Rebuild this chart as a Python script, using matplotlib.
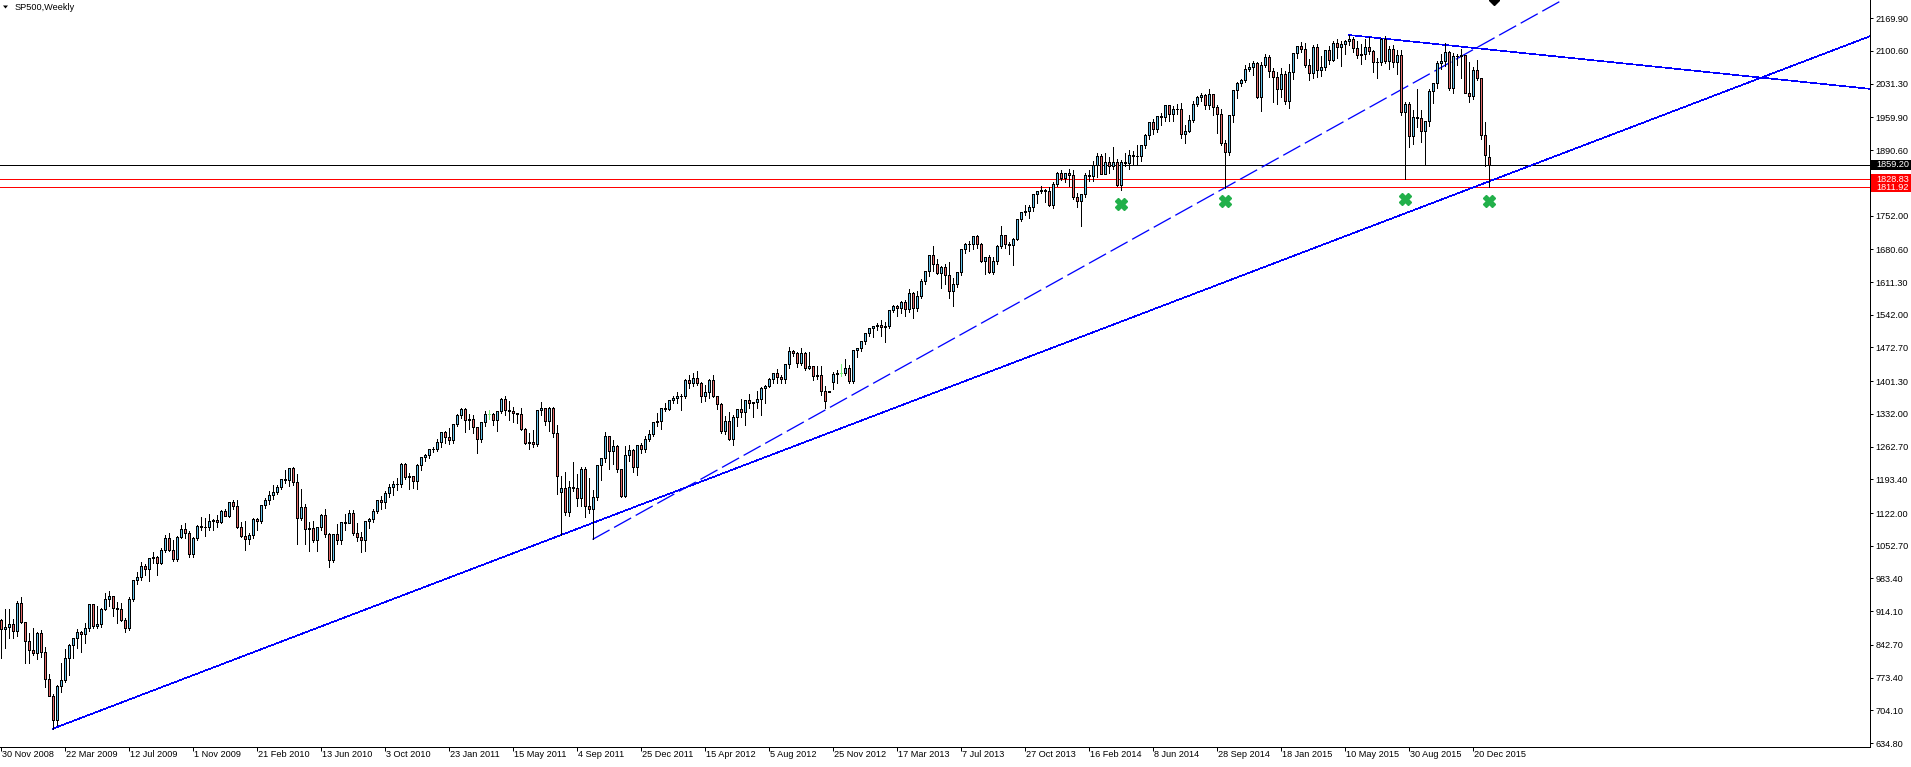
import matplotlib
matplotlib.use("Agg")
import matplotlib.pyplot as plt
from matplotlib.patches import Rectangle, Polygon
from matplotlib.collections import PatchCollection, LineCollection
from matplotlib.transforms import blended_transform_factory

plt.rcParams['font.family'] = ['Liberation Sans', 'DejaVu Sans']

# weekly bars, week 0 = 30 Nov 2008 ... week 372 = 17 Jan 2016 (still open)
closes = [
    876.1, 879.7, 887.9, 872.8, 931.8,
    890.4, 850.1, 832.0, 825.9, 868.6, 826.8, 770.1, 735.1, 683.4, 756.6,
    768.5, 815.9, 842.5, 856.6, 869.6, 866.2, 877.5, 929.2, 882.9, 887.0,
    919.1, 940.1, 946.2, 921.2, 918.9, 896.4, 879.1, 940.4, 979.3, 987.5,
    1010.5, 1004.1, 1026.1, 1028.9, 1016.4, 1042.7, 1068.3, 1044.4, 1025.2, 1071.5,
    1087.7, 1079.6, 1036.2, 1069.3, 1093.5, 1091.4, 1091.5, 1106.0, 1106.4, 1102.5,
    1126.5, 1115.1, 1145.0, 1136.0, 1091.8, 1073.9, 1066.2, 1075.5, 1109.2, 1104.5,
    1138.7, 1150.0, 1159.9, 1166.6, 1178.1, 1194.4, 1192.1, 1217.3, 1186.7, 1110.9,
    1135.7, 1087.7, 1089.4, 1064.9, 1091.6, 1117.5, 1076.8, 1022.6, 1078.0, 1064.9,
    1102.7, 1101.6, 1121.6, 1079.3, 1071.7, 1064.6, 1104.5, 1109.6, 1125.6, 1148.7,
    1146.2, 1165.2, 1176.2, 1183.1, 1183.3, 1225.9, 1199.2, 1199.7, 1189.4, 1224.7,
    1240.4, 1243.9, 1256.8, 1257.6, 1271.5, 1293.2, 1283.4, 1276.3, 1310.9, 1329.2,
    1343.0, 1319.9, 1321.2, 1304.3, 1279.2, 1313.8, 1332.4, 1332.4, 1319.7, 1337.4,
    1363.6, 1340.2, 1337.8, 1333.3, 1331.1, 1300.2, 1271.0, 1271.5, 1268.5, 1339.7,
    1343.8, 1316.1, 1345.0, 1292.3, 1199.4, 1176.0, 1123.5, 1176.8, 1174.0, 1154.2,
    1216.0, 1136.4, 1131.4, 1155.5, 1224.6, 1238.3, 1285.1, 1253.2, 1263.9, 1215.7,
    1158.7, 1244.3, 1255.2, 1219.7, 1265.3, 1257.6, 1277.8, 1289.1, 1315.4, 1316.3,
    1344.9, 1342.6, 1361.2, 1365.7, 1369.6, 1370.9, 1404.2, 1397.1, 1408.5, 1398.1,
    1370.3, 1378.5, 1403.4, 1369.1, 1353.4, 1295.2, 1317.8, 1278.0, 1325.7, 1342.8,
    1335.0, 1362.2, 1354.7, 1356.8, 1362.7, 1386.0, 1391.0, 1405.9, 1418.2, 1411.1,
    1406.6, 1437.9, 1465.8, 1460.2, 1440.7, 1460.9, 1428.6, 1433.2, 1411.9, 1414.2,
    1379.9, 1359.9, 1380.0, 1416.2, 1418.1, 1418.1, 1430.2, 1402.4, 1466.5, 1472.1,
    1486.0, 1503.0, 1513.2, 1517.9, 1519.8, 1515.6, 1518.2, 1551.2, 1560.7, 1556.9,
    1569.2, 1553.3, 1588.9, 1555.3, 1582.2, 1614.4, 1633.7, 1667.5, 1649.6, 1630.7,
    1643.4, 1626.7, 1592.4, 1606.3, 1631.9, 1680.2, 1692.1, 1691.7, 1709.7, 1691.4,
    1655.8, 1663.5, 1633.0, 1655.2, 1688.0, 1709.9, 1691.8, 1690.5, 1703.2, 1744.5,
    1759.8, 1761.6, 1770.6, 1798.2, 1804.8, 1805.8, 1805.1, 1775.3, 1818.3, 1841.4,
    1831.4, 1842.4, 1838.7, 1790.3, 1782.6, 1797.0, 1838.6, 1836.3, 1859.5, 1878.0,
    1841.1, 1866.5, 1857.6, 1865.1, 1815.7, 1864.9, 1863.4, 1881.1, 1878.5, 1877.9,
    1900.5, 1923.6, 1949.4, 1936.2, 1962.9, 1961.0, 1985.4, 1967.6, 1978.2, 1978.3,
    1925.2, 1931.6, 1955.1, 1988.4, 2003.4, 2007.7, 1985.5, 2010.4, 1982.9, 1967.9,
    1906.1, 1886.8, 1964.6, 2018.1, 2031.9, 2039.8, 2063.5, 2067.6, 2075.4, 2002.3,
    2070.7, 2088.8, 2058.2, 2044.8, 2019.4, 2051.8, 1995.0, 2055.5, 2097.0, 2110.3,
    2104.5, 2071.3, 2053.4, 2108.1, 2061.0, 2067.0, 2102.1, 2081.2, 2117.7, 2108.3,
    2116.1, 2122.7, 2126.1, 2107.4, 2092.8, 2094.1, 2110.0, 2101.5, 2076.8, 2076.6,
    2126.6, 2079.7, 2103.8, 2077.6, 2091.5, 1970.9, 1988.9, 1921.2, 1961.1, 1958.0,
    1931.3, 1951.4, 2014.9, 2033.1, 2075.2, 2079.4, 2099.2, 2023.0, 2089.2, 2090.1,
    2091.7, 2012.4, 2005.6, 2061.0, 2043.9, 1922.0, 1880.3, 1859.2,
]

highs = [
    896.5, 918.6, 918.9, 897.0, 934.7,
    943.9, 890.4, 868.0, 877.9, 870.8, 875.0, 839.0, 780.0, 739.0, 758.3,
    804.5, 833.0, 845.6, 856.9, 875.6, 871.8, 888.7, 930.2, 930.0, 924.6,
    920.0, 951.7, 956.2, 947.0, 934.0, 931.0, 898.7, 944.0, 979.8, 996.7,
    1018.0, 1013.1, 1027.6, 1039.5, 1030.0, 1048.2, 1074.8, 1080.2, 1065.0, 1073.0,
    1096.6, 1101.4, 1083.0, 1072.0, 1097.0, 1113.7, 1111.4, 1119.1, 1110.0, 1117.7,
    1127.6, 1130.4, 1145.4, 1150.5, 1150.4, 1103.7, 1104.7, 1080.0, 1112.4, 1112.4,
    1139.4, 1153.4, 1169.2, 1180.7, 1181.4, 1194.7, 1213.9, 1217.5, 1219.8, 1205.0,
    1173.6, 1141.8, 1104.0, 1105.7, 1093.0, 1119.3, 1131.2, 1079.6, 1078.2, 1099.0,
    1103.7, 1120.0, 1129.2, 1129.2, 1100.0, 1081.0, 1105.1, 1110.9, 1131.5, 1148.9,
    1157.2, 1167.7, 1184.4, 1189.4, 1196.1, 1227.1, 1227.1, 1207.4, 1200.5, 1225.6,
    1241.5, 1246.7, 1258.6, 1262.6, 1278.0, 1293.2, 1296.7, 1302.7, 1311.0, 1330.8,
    1344.1, 1343.5, 1332.3, 1330.6, 1305.0, 1315.0, 1337.9, 1339.5, 1333.0, 1337.5,
    1364.6, 1370.6, 1359.4, 1346.8, 1334.6, 1345.2, 1302.2, 1292.5, 1298.6, 1341.0,
    1356.5, 1344.5, 1347.0, 1346.0, 1307.4, 1200.0, 1208.5, 1190.7, 1230.7, 1204.4,
    1220.4, 1220.4, 1195.9, 1171.4, 1224.6, 1239.0, 1292.7, 1286.0, 1277.6, 1266.0,
    1216.0, 1264.9, 1267.1, 1258.0, 1265.4, 1269.4, 1284.6, 1296.8, 1315.5, 1333.5,
    1345.3, 1354.3, 1362.0, 1368.9, 1378.0, 1374.2, 1405.9, 1414.0, 1419.1, 1422.4,
    1399.0, 1392.8, 1406.6, 1415.3, 1370.5, 1355.0, 1328.5, 1334.9, 1329.1, 1343.3,
    1363.5, 1362.2, 1374.8, 1357.8, 1380.4, 1389.2, 1394.2, 1407.1, 1418.7, 1426.7,
    1413.5, 1438.0, 1474.5, 1467.1, 1463.0, 1471.0, 1464.0, 1464.0, 1434.3, 1434.3,
    1433.4, 1391.4, 1380.0, 1420.0, 1424.0, 1438.6, 1448.0, 1435.6, 1467.9, 1472.3,
    1486.5, 1503.3, 1514.4, 1518.3, 1524.7, 1530.9, 1525.8, 1552.5, 1563.3, 1561.6,
    1570.3, 1573.7, 1597.4, 1589.5, 1592.6, 1618.5, 1635.0, 1667.5, 1687.2, 1661.0,
    1644.4, 1648.7, 1654.2, 1620.0, 1632.0, 1680.2, 1693.1, 1698.8, 1709.7, 1710.5,
    1693.5, 1664.8, 1669.0, 1664.8, 1689.0, 1729.9, 1711.2, 1696.5, 1704.9, 1745.3,
    1759.8, 1775.2, 1774.5, 1798.2, 1804.8, 1813.6, 1808.4, 1811.5, 1823.8, 1844.9,
    1849.4, 1843.2, 1850.8, 1849.3, 1798.8, 1798.5, 1841.6, 1847.5, 1867.9, 1883.6,
    1882.3, 1884.0, 1875.2, 1897.3, 1872.5, 1869.6, 1884.9, 1891.3, 1889.1, 1902.2,
    1901.3, 1924.0, 1949.4, 1955.6, 1963.9, 1968.2, 1985.6, 1985.6, 1983.9, 1989.0,
    1991.4, 1942.9, 1964.0, 1994.8, 2005.0, 2011.2, 2009.0, 2019.3, 2010.5, 1986.2,
    1977.8, 1912.0, 1965.3, 2018.2, 2034.3, 2041.3, 2071.5, 2075.8, 2079.5, 2077.0,
    2077.9, 2093.5, 2092.7, 2064.4, 2056.4, 2064.6, 2057.6, 2072.4, 2097.0, 2110.6,
    2119.6, 2117.5, 2083.5, 2113.9, 2114.9, 2089.8, 2102.6, 2111.9, 2120.9, 2125.9,
    2120.9, 2124.6, 2134.5, 2129.5, 2121.9, 2115.0, 2126.6, 2130.0, 2102.0, 2085.0,
    2128.0, 2132.8, 2110.6, 2112.7, 2102.5, 2103.5, 1993.5, 1992.0, 1975.0, 2020.9,
    1975.0, 1953.0, 2020.1, 2033.5, 2079.7, 2094.3, 2116.5, 2101.0, 2097.0, 2094.1,
    2104.3, 2093.0, 2076.4, 2067.6, 2081.6, 2044.0, 1950.3, 1902.0,
]

lows = [
    815.7, 837.0, 857.0, 857.9, 862.0,
    888.0, 804.3, 804.3, 821.7, 812.7, 818.0, 754.0, 734.0, 665.0, 672.9,
    742.0, 765.0, 778.0, 814.5, 836.0, 826.8, 847.0, 872.0, 878.9, 878.0,
    881.0, 916.0, 926.0, 903.0, 888.0, 893.0, 869.3, 875.0, 935.0, 972.0,
    981.0, 990.0, 978.5, 1017.0, 991.0, 1013.0, 1039.0, 1041.0, 1019.9, 1020.0,
    1069.0, 1070.0, 1029.4, 1029.0, 1064.0, 1085.0, 1073.6, 1085.0, 1085.0, 1093.0,
    1101.0, 1114.8, 1113.5, 1131.0, 1090.0, 1071.6, 1044.5, 1056.5, 1070.0, 1086.0,
    1100.0, 1132.0, 1141.0, 1152.0, 1163.0, 1173.0, 1186.0, 1180.0, 1181.6, 1056.0,
    1108.0, 1055.9, 1040.8, 1060.0, 1042.2, 1085.0, 1071.0, 1008.0, 1018.0, 1057.0,
    1056.9, 1085.0, 1100.0, 1076.0, 1063.0, 1039.7, 1040.9, 1091.0, 1103.0, 1122.0,
    1131.0, 1131.9, 1155.7, 1159.7, 1171.0, 1177.0, 1194.0, 1173.0, 1176.0, 1173.6,
    1213.7, 1232.8, 1238.0, 1251.5, 1254.0, 1262.2, 1271.3, 1268.0, 1270.0, 1307.0,
    1323.0, 1294.3, 1299.0, 1291.0, 1249.0, 1272.0, 1307.0, 1322.0, 1309.0, 1294.7,
    1334.0, 1329.2, 1318.0, 1315.0, 1311.8, 1297.0, 1268.2, 1258.1, 1262.7, 1264.0,
    1330.0, 1309.0, 1295.0, 1282.9, 1162.0, 1075.0, 1118.0, 1115.0, 1169.0, 1136.0,
    1136.0, 1114.2, 1121.0, 1066.0, 1150.0, 1191.5, 1231.0, 1215.4, 1226.6, 1209.0,
    1155.0, 1155.0, 1231.5, 1209.5, 1202.4, 1248.6, 1252.0, 1274.0, 1285.0, 1306.0,
    1300.5, 1337.7, 1340.0, 1354.0, 1354.9, 1340.0, 1365.7, 1386.9, 1391.6, 1392.9,
    1357.4, 1358.8, 1366.0, 1367.0, 1343.1, 1291.9, 1290.0, 1277.0, 1266.7, 1306.6,
    1324.4, 1309.3, 1345.0, 1325.4, 1344.0, 1329.2, 1354.7, 1389.0, 1397.0, 1398.0,
    1397.0, 1396.6, 1430.0, 1455.0, 1430.5, 1436.0, 1425.5, 1426.0, 1403.3, 1406.0,
    1373.0, 1343.4, 1378.0, 1385.0, 1398.0, 1411.9, 1413.5, 1398.0, 1398.0, 1451.6,
    1465.6, 1481.0, 1496.3, 1495.0, 1510.0, 1497.3, 1485.0, 1514.5, 1547.4, 1538.6,
    1545.1, 1539.5, 1548.0, 1536.0, 1549.0, 1577.0, 1607.0, 1623.7, 1635.0, 1628.0,
    1598.2, 1608.0, 1577.7, 1560.3, 1601.0, 1626.0, 1671.8, 1676.0, 1681.0, 1684.0,
    1654.2, 1627.5, 1630.0, 1628.0, 1650.0, 1684.0, 1683.0, 1670.4, 1646.5, 1700.0,
    1740.0, 1752.7, 1746.2, 1761.6, 1779.0, 1800.0, 1779.9, 1772.0, 1767.0, 1814.0,
    1827.0, 1823.7, 1815.5, 1788.0, 1770.5, 1730.0, 1791.8, 1824.6, 1825.0, 1834.4,
    1839.5, 1839.0, 1842.0, 1850.0, 1814.4, 1806.0, 1856.0, 1850.0, 1859.8, 1862.0,
    1868.0, 1896.0, 1915.0, 1925.8, 1930.0, 1944.0, 1952.9, 1952.9, 1952.0, 1968.0,
    1916.4, 1904.8, 1929.0, 1951.0, 1985.0, 1994.0, 1978.0, 1978.0, 1965.0, 1926.0,
    1902.0, 1811.0, 1880.0, 1951.0, 2001.0, 2026.0, 2034.0, 2058.0, 2049.0, 2000.0,
    1972.6, 2066.0, 2046.0, 1992.4, 1988.1, 2004.0, 1989.0, 1980.9, 2041.0, 2085.4,
    2098.0, 2067.3, 2039.7, 2044.0, 2045.5, 2048.4, 2060.0, 2072.0, 2079.0, 2085.7,
    2067.9, 2095.0, 2114.0, 2099.0, 2085.7, 2072.0, 2084.0, 2095.0, 2056.3, 2044.0,
    2070.0, 2075.0, 2063.5, 2067.0, 2052.1, 1965.0, 1828.9, 1898.0, 1903.0, 1940.0,
    1908.8, 1859.5, 1942.0, 1990.0, 2022.0, 2063.0, 2069.0, 2019.0, 2012.0, 2070.3,
    2042.4, 2011.0, 1993.3, 1999.0, 2040.0, 1915.0, 1857.8, 1811.9,
]

# each bar opens where the previous one closed, except these gap weeks
first_open = 896.2
open_gaps = {140: 1166.0, 207: 1378.0, 208: 1400.0, 372: 1876.0}
opens = [first_open] + closes[:-1]
for wk, val in open_gaps.items():
    opens[wk] = val

assert len(closes) == len(highs) == len(lows) == 373

tick_weeks = list(range(0, 369, 16))
tick_dates = ['30 Nov 2008', '22 Mar 2009', '12 Jul 2009', '1 Nov 2009', '21 Feb 2010',
              '13 Jun 2010', '3 Oct 2010', '23 Jan 2011', '15 May 2011', '4 Sep 2011',
              '25 Dec 2011', '15 Apr 2012', '5 Aug 2012', '25 Nov 2012', '17 Mar 2013',
              '7 Jul 2013', '27 Oct 2013', '16 Feb 2014', '8 Jun 2014', '28 Sep 2014',
              '18 Jan 2015', '10 May 2015', '30 Aug 2015', '20 Dec 2015']
price_ticks = [2169.90, 2100.60, 2031.30, 1959.90, 1890.60, 1752.00, 1680.60, 1611.30,
               1542.00, 1472.70, 1401.30, 1332.00, 1262.70, 1193.40, 1122.00, 1052.70,
               983.40, 914.10, 842.70, 773.40, 704.10, 634.80]

level_prices = [1811.92, 1828.83, 1859.20]
level_colors = ['#ff0000', '#ff0000', '#000000']

# trend lines: two anchor points (week, price), drawn as rays to the right
solid_rays = [((13, 665.0), (140, 1075.0)), ((337, 2134.5), (361, 2113.5))]
dashed_ray = ((148, 1066.0), (306, 1810.5))

mark_weeks = [280, 306, 351, 372]
mark_prices = [1776.5, 1782.3, 1787.8, 1782.9]

# ---- figure ----
W, H = 1911, 767
PW, PH = 1870, 747
DPI = 100
PX = 72.0 / DPI
X0 = -0.125
X1 = X0 + PW / 4.0
Y0, Y1 = 626.4, 2208.6
FS = 6.55

BULL = '#62c1ea'
BEAR = '#e46868'
DOJI = '#7cf07c'

fig = plt.figure(figsize=(W / DPI, H / DPI), dpi=DPI, facecolor='white')
ax = fig.add_axes([0, (H - PH) / H, PW / W, PH / H])
ax.set_xlim(X0, X1)
ax.set_ylim(Y0, Y1)

# horizontal levels
for p, c in zip(level_prices, level_colors):
    ax.axhline(p, color=c, lw=PX, antialiased=False, zorder=1)

# trend lines
def ray(p1, p2):
    k = (p2[1] - p1[1]) / (p2[0] - p1[0])
    return [p1[0], X1], [p1[1], p1[1] + k * (X1 - p1[0])]

TW = 0.62 * PX
for a, b in solid_rays:
    xs, ys = ray(a, b)
    ax.plot(xs, ys, color='#0000ff', lw=TW, antialiased=False, zorder=2)
DW = 1.3 * PX
xs, ys = ray(*dashed_ray)
ax.plot(xs, ys, color='#0000ff', lw=DW, antialiased=True, zorder=2,
        linestyle=(0, (15, 4)), dash_capstyle='butt')

# candles
wick_segs, wick_cols, bodies, body_cols, doji_segs = [], [], [], [], []
for i in range(len(closes)):
    o, h, l, c = opens[i], highs[i], lows[i], closes[i]
    if o == c:
        wick_segs.append([(i, l), (i, h)])
        wick_cols.append(DOJI)
        doji_segs.append([(i - 0.25, c), (i + 0.25, c)])
        continue
    wick_segs.append([(i, l), (i, h)])
    wick_cols.append('black')
    bodies.append(Rectangle((i - 0.25, min(o, c)), 0.5, abs(c - o)))
    body_cols.append(BULL if c > o else BEAR)

ax.add_collection(LineCollection(wick_segs, colors=wick_cols, linewidths=PX,
                                 antialiaseds=False, zorder=3))
ax.add_collection(LineCollection(doji_segs, colors=DOJI, linewidths=PX,
                                 antialiaseds=False, zorder=4))
ax.add_collection(PatchCollection(bodies, facecolors=body_cols, edgecolors='black',
                                  linewidths=PX, antialiaseds=False, zorder=4))

# arrows placed on the chart
ax.plot(mark_weeks, mark_prices, linestyle='none', marker='X', markersize=8.2,
        color='#22b04a', markeredgecolor='#22b04a', zorder=5)
ax.plot([373.4], [Y1], linestyle='none', marker='D', markersize=5, color='black', zorder=5)

# axes look
for side in ('top', 'left'):
    ax.spines[side].set_visible(False)
for side in ('right', 'bottom'):
    ax.spines[side].set_linewidth(PX)
    ax.spines[side].set_color('black')

ax.yaxis.tick_right()
ax.set_yticks(price_ticks)
ax.set_yticklabels(['%.2f' % p for p in price_ticks])
ax.tick_params(axis='y', direction='out', length=3 * PX, width=PX, pad=2.2 * PX,
               labelsize=FS, colors='black')

ax.set_xticks(tick_weeks)
ax.set_xticklabels([])
ax.tick_params(axis='x', direction='out', length=4 * PX, width=PX, colors='black')
xt = blended_transform_factory(ax.transData, ax.transAxes)
for wk, lab in zip(tick_weeks, tick_dates):
    ax.text(wk + 0.5, -3.0 / PH, lab, transform=xt, ha='left', va='top',
            fontsize=FS, clip_on=False)

# price labels of the levels
lt = blended_transform_factory(fig.transFigure, ax.transData)
half = 5.0 * (Y1 - Y0) / PH
for p, c in zip(level_prices, level_colors):
    fig.add_artist(Rectangle((1871.0 / W, p - half), 40.0 / W, 2 * half,
                             transform=lt, facecolor=c, edgecolor='none'))
    fig.text(1876.0 / W, p, '%.2f' % p, transform=lt, color='white',
             fontsize=FS, ha='left', va='center')

# title
fig.add_artist(Polygon([(3.0 / W, 1 - 5.5 / H), (8.0 / W, 1 - 5.5 / H), (5.5 / W, 1 - 8.5 / H)],
                       closed=True, transform=fig.transFigure, facecolor='black',
                       edgecolor='none'))
fig.text(15.0 / W, 1 - 7.5 / H, 'SP500,Weekly', fontsize=FS, ha='left', va='center')

fig.savefig('out.png', dpi=DPI, facecolor='white')
